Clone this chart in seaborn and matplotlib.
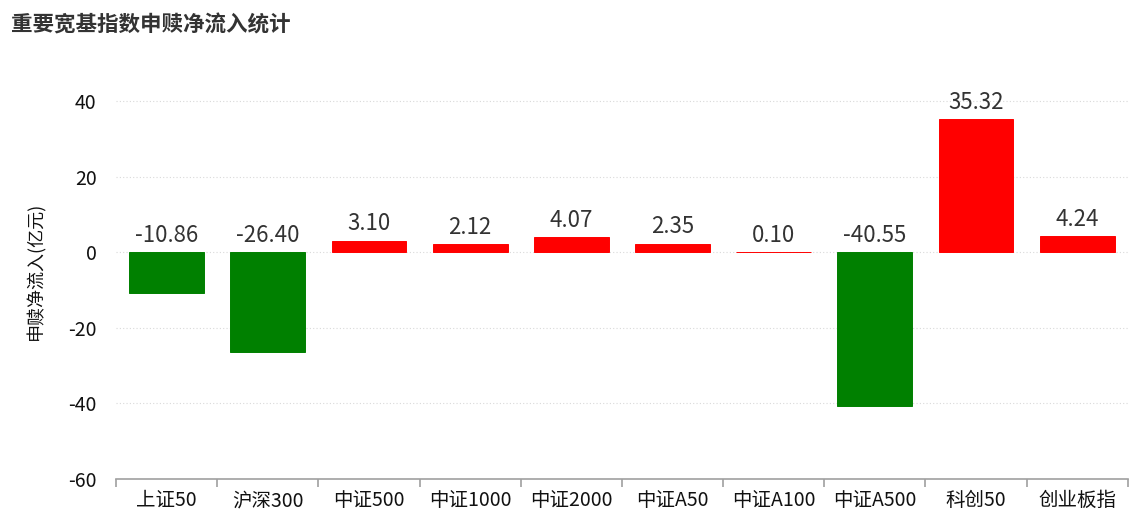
import numpy as np
import pandas as pd
import matplotlib.pyplot as plt
import seaborn as sns

# data
categories = ['上证50', '沪深300', '中证500', '中证1000', '中证2000',
              '中证A50', '中证A100', '中证A500', '科创50', '创业板指']
net_inflow = [-10.86, -26.40, 3.10, 2.12, 4.07, 2.35, 0.10, -40.55, 35.32, 4.24]
y_ticks = [-60, -40, -20, 0, 20, 40]

sns.set_theme(style='white')
plt.rcParams['font.family'] = ['Noto Sans CJK SC', 'DejaVu Sans']
plt.rcParams['axes.unicode_minus'] = False

df = pd.DataFrame({'index': categories, 'value': net_inflow})
df['sign'] = np.where(df['value'] >= 0, 'pos', 'neg')
pal = {'pos': '#ff0000', 'neg': '#008000'}

fig = plt.figure(figsize=(11.3, 5.3), dpi=100)
ax = fig.add_axes([0.1027, 0.0962, 0.8953, 0.7838])

sns.barplot(data=df, x='index', y='value', hue='sign', palette=pal,
            saturation=1, dodge=False, width=0.74, legend=False, ax=ax,
            zorder=3)
# thin outline in the bar colour so the tiny 0.10 bar still shows
for patch in ax.patches:
    patch.set_edgecolor(patch.get_facecolor())
    patch.set_linewidth(0.7)

# value labels: above bar top for positive, above zero line for negative
for i, v in enumerate(net_inflow):
    ax.text(i, max(v, 0) + 1.4, f'{v:.2f}', ha='center', va='bottom',
            fontsize=16, color='#333333')

ax.set_ylim(-60, 50)
ax.set_xlim(-0.5, len(categories) - 0.5)
ax.set_yticks(y_ticks)
ax.tick_params(axis='y', length=0, labelsize=14, colors='#111111', pad=14)
for t in [-40, -20, 0, 20, 40]:
    ax.axhline(t, color='#d9d9d9', lw=0.8, ls=(0, (1, 2)), zorder=1)

# x ticks: labels centred, tick marks at category boundaries
ax.set_xticks(range(len(categories)))
ax.set_xticklabels(categories)
ax.set_xticks(np.arange(-0.5, len(categories)), minor=True)
ax.tick_params(axis='x', which='major', length=0, labelsize=14,
               colors='#111111', pad=8)
ax.tick_params(axis='x', which='minor', length=6, color='#a0a0a0',
               width=1.2, bottom=True)

for side in ['top', 'right', 'left']:
    ax.spines[side].set_visible(False)
ax.spines['bottom'].set_color('#a0a0a0')
ax.spines['bottom'].set_linewidth(1.2)

ax.set_xlabel('')
ax.set_ylabel('申赎净流入(亿元)', fontsize=13, color='#111111', labelpad=16)

fig.text(0.010, 0.952, '重要宽基指数申赎净流入统计', fontsize=15.5,
         fontweight='bold', color='#333333', ha='left', va='center')

fig.savefig('out.png', dpi=100)
